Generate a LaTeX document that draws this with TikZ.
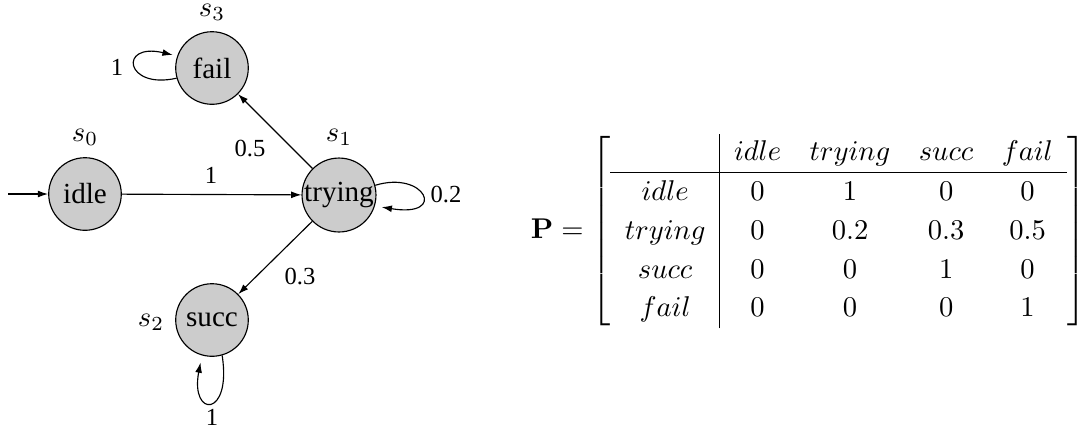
\documentclass[tikz,border=0pt]{standalone}
\usepackage[no-math]{fontspec}
\newfontfamily\tnr{Liberation Serif}
\usetikzlibrary{arrows.meta}
\definecolor{statefill}{gray}{0.8}
\renewcommand{\arraystretch}{1.13}
\begin{document}
\begin{tikzpicture}[x=0.35pt,y=-0.35pt,
  state/.style={circle,draw,line width=0.4pt,fill=statefill,minimum size=25.4pt,inner sep=0pt,
    font=\tnr\fontsize{10.2}{12}\selectfont},
  elabel/.style={font=\tnr\fontsize{8.6}{10}\selectfont,anchor=base,inner sep=0pt},
  slabel/.style={anchor=base,inner sep=0pt},
  edge/.style={-{Latex[length=3.6pt,width=2.4pt]},line width=0.4pt}]
\useasboundingbox (0,0) rectangle (1083,433);
% states
\node[state] (idle) at (85,194) {idle};
\node[state] (trying) at (339,195) {trying};
\node[state] (fail) at (212,68) {fail};
\node[state] (succ) at (212,320) {succ};
% state names
\node[slabel] (s0) at (85,141.7) {$s_0$};
\node[slabel] (s1) at (339,141.7) {$s_1$};
\node[slabel] (s2) at (151,326.7) {$s_2$};
\node[slabel] (s3) at (212,16.5) {$s_3$};
% transitions
\coordinate (start) at (8,194);
\draw[edge] (start) -- (idle);
\draw[edge] (idle) -- (trying);
\draw[edge] (trying) -- (fail);
\draw[edge] (trying) -- (succ);
\draw[edge,shorten >=1.6pt] (fail.196) .. controls (125,90) and (118,42) .. (fail.161);
\draw[edge,shorten >=2.4pt] (trying.15) .. controls (425,170) and (448,218) .. (trying.-17);
\draw[edge,shorten >=2.5pt] (succ.-74) .. controls (232,418) and (190,418) .. (succ.-106);
% transition labels
\node[elabel] (l1) at (211,183.3) {1};
\node[elabel] (l05) at (250,156.7) {0.5};
\node[elabel] (l03) at (300,284.3) {0.3};
\node[elabel] (l02) at (446,202.7) {0.2};
\node[elabel] (lf) at (117,75) {1};
\node[elabel] (ls) at (212,425) {1};
% matrix
\node[anchor=east,inner sep=0pt] (P) at (1087,231) {$\mathbf{P} = \left[\begin{array}{c|cccc}
 & idle & trying & succ & fail\\ \hline
idle & 0 & 1 & 0 & 0\\
trying & 0 & 0.2 & 0.3 & 0.5\\
succ & 0 & 0 & 1 & 0\\
fail & 0 & 0 & 0 & 1
\end{array}\right]$};
\end{tikzpicture}
\end{document}
